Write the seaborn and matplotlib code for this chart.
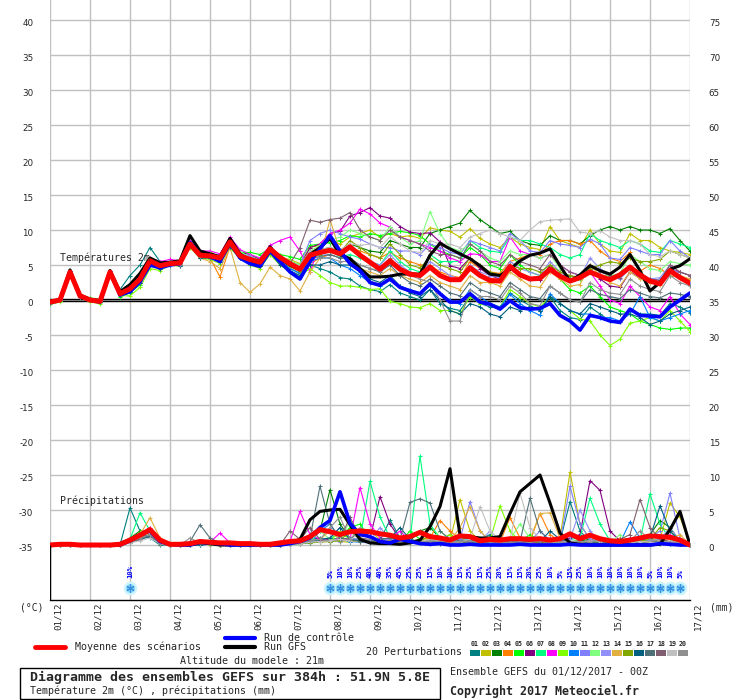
import matplotlib
matplotlib.use('Agg')
import matplotlib.pyplot as plt
import seaborn as sns
import pandas as pd
from matplotlib.lines import Line2D
from matplotlib.patches import Rectangle
from matplotlib.transforms import ScaledTranslation

# time axis: hours after 01/12/2017 00Z, every 6h up to 384h
hours = list(range(0, 385, 6))
day_ticks = list(range(0, 385, 24))
day_labels = ['01/12', '02/12', '03/12', '04/12', '05/12', '06/12', '07/12', '08/12', '09/12',
              '10/12', '11/12', '12/12', '13/12', '14/12', '15/12', '16/12', '17/12']

# ---- 2m temperature (degC) ----
mean_t = [-0.3, 0.0, 4.0, 0.6,  0.0, -0.2, 4.0, 0.9,  1.6, 3.0, 5.6, 4.9,  5.2, 5.3, 8.0, 6.4,
          6.3, 6.0, 8.3, 6.3,  5.8, 5.4, 7.3, 6.1,  5.2, 4.4, 6.4, 6.8,  7.1, 6.6, 7.6, 6.4,
          5.4, 4.4, 5.6, 4.4,  3.7, 3.5, 4.7, 3.5,  2.9, 2.9, 4.6, 3.5,  2.8, 2.7, 4.8, 3.6,
          3.0, 3.1, 4.4, 3.4,  2.7, 3.2, 4.0, 3.4,  2.9, 3.6, 4.7, 3.6,  2.7, 2.3, 4.2, 3.2,
          2.4]
ctrl_t = [-0.4, 0.0, 4.0, 0.5,  0.0, -0.3, 4.0, 0.7,  1.2, 2.6, 5.0, 4.6,  5.0, 5.2, 8.2, 6.5,
          6.2, 5.5, 8.2, 6.0,  5.2, 4.8, 7.0, 5.5,  4.0, 3.0, 5.5, 7.3,  9.2, 7.0, 5.2, 4.2,
          2.5, 2.1, 3.0, 1.8,  1.3, 0.9, 2.3, 0.9,  -0.3, -0.3, 0.9, -0.3,  -0.6, -1.3, -0.1, -1.1,
          -1.3, -1.2, -0.5, -2.2,  -3.0, -4.3, -2.2, -2.5,  -3.0, -3.2, -1.3, -2.2,  -2.3, -2.4, -1.0, 0.0,
          1.0]
gfs_t = [-0.3, 0.1, 4.3, 0.7,  0.1, -0.1, 4.2, 1.2,  2.2, 3.8, 6.0, 5.3,  5.4, 5.6, 9.2, 7.0,
         6.6, 6.2, 8.8, 6.6,  5.5, 4.9, 7.6, 5.9,  5.0, 4.3, 6.5, 7.5,  8.8, 6.5, 5.9, 4.5,
         3.3, 3.3, 3.4, 3.7,  3.7, 3.7, 6.4, 8.1,  7.3, 6.6, 5.9, 4.9,  3.7, 3.5, 4.4, 5.6,
         6.4, 6.7, 7.3, 4.9,  2.7, 3.6, 4.9, 4.2,  3.7, 4.7, 6.5, 4.2,  1.3, 2.5, 4.4, 4.9,
         5.9]

t01 = [-0.4, 0.0, 4.2, 0.7,  0.1, -0.1, 4.1, 1.5,  3.5, 5.0, 7.5, 5.5,  5.3, 5.2, 8.2, 6.8,
       6.5, 6.0, 8.0, 6.0,  5.0, 4.8, 7.0, 5.5,  4.5, 3.8, 5.0, 4.5,  4.0, 3.2, 3.0, 2.0,
       1.5, 1.2, 2.2, 1.0,  0.5, 0.0, 1.5, -0.5,  -1.2, -1.5, 0.5, -0.5,  -1.0, -1.2, 1.0, 0.0,
       -0.8, -1.5, 0.5, -1.5,  -2.5, -2.8, -1.0, -2.0,  -3.0, -3.2, -1.5, -2.0,  -2.0, -2.2, -0.5, -1.0,
       -1.8]
t02 = [-0.3, 0.1, 3.9, 0.5,  -0.2, -0.3, 4.0, 0.8,  1.4, 2.8, 5.2, 4.8,  5.1, 5.2, 7.8, 6.2,
       6.8, 6.0, 8.5, 6.5,  6.2, 5.6, 7.6, 6.0,  5.8, 5.2, 7.5, 7.8,  8.5, 8.0, 9.0, 9.5,
       10.0, 9.0, 9.5, 9.0,  9.2, 8.8, 10.3, 10.0,  9.8, 9.0, 10.2, 8.8,  8.0, 7.5, 9.0, 8.0,
       7.5, 7.2, 10.5, 8.5,  8.0, 7.5, 10.0, 8.0,  7.0, 6.8, 9.5, 8.5,  8.5, 7.5, 7.0, 6.8,
       6.5]
t03 = [-0.5, -0.1, 4.0, 0.6,  0.2, -0.2, 4.0, 0.8,  1.2, 2.5, 5.4, 4.6,  5.0, 5.0, 8.3, 6.6,
       6.6, 6.2, 8.6, 6.8,  6.5, 5.8, 7.5, 6.0,  5.5, 5.0, 7.0, 7.2,  7.5, 7.0, 8.0, 7.5,
       7.0, 6.8, 8.5, 8.0,  7.5, 7.5, 9.5, 10.0,  10.5, 11.0, 12.8, 11.5,  10.5, 9.5, 9.8, 8.5,
       8.0, 7.8, 9.2, 8.5,  8.5, 8.0, 9.2, 10.0,  10.5, 10.0, 10.5, 10.0,  10.0, 9.5, 10.2, 8.5,
       7.0]
t04 = [-0.3, 0.0, 4.0, 0.5,  0.0, -0.2, 4.1, 1.0,  1.8, 3.2, 5.8, 5.0,  5.5, 5.4, 7.8, 6.0,
       6.0, 3.3, 7.6, 6.2,  5.5, 5.0, 7.0, 5.8,  4.8, 4.0, 5.2, 6.0,  6.5, 6.0, 7.5, 7.0,
       6.5, 6.0, 6.8, 6.0,  5.5, 5.0, 5.0, 4.0,  3.5, 3.2, 5.5, 4.5,  4.0, 3.8, 5.5, 6.0,
       6.5, 6.5, 8.0, 8.5,  8.5, 8.0, 8.5, 7.0,  6.0, 5.5, 6.8, 4.1,  5.0, 4.5, 3.5, 3.2,
       3.0]
t05 = [-0.2, 0.2, 4.1, 0.8,  0.3, 0.1, 3.9, 0.5,  1.0, 2.2, 5.2, 4.8,  5.4, 5.5, 8.0, 6.6,
       6.4, 6.0, 8.3, 6.8,  6.8, 6.5, 7.4, 6.5,  6.2, 5.8, 7.8, 8.0,  8.2, 8.5, 9.2, 9.0,
       9.5, 9.2, 9.5, 9.8,  9.6, 9.2, 8.0, 7.0,  6.5, 6.0, 7.5, 6.5,  5.0, 4.5, 6.5, 5.0,
       4.0, 3.5, 4.8, 3.0,  1.5, 1.0, 2.0, 0.5,  -1.0, -1.5, -2.0, -3.0,  -3.5, -4.0, -4.2, -4.0,
       -4.0]
t06 = [-0.4, 0.0, 4.0, 0.6,  -0.1, -0.3, 4.2, 0.9,  1.5, 3.0, 5.6, 5.0,  5.3, 5.3, 8.1, 6.5,
       6.4, 6.1, 8.2, 6.4,  6.0, 5.5, 7.6, 6.2,  5.5, 4.8, 7.5, 8.0,  9.5, 9.8, 12.0, 12.5,
       13.2, 12.0, 11.7, 10.5,  9.7, 9.5, 9.6, 8.3,  4.9, 4.5, 6.0, 4.5,  3.5, 3.0, 4.5, 3.5,
       3.0, 2.8, 5.0, 3.5,  3.5, 3.0, 4.5, 3.0,  2.0, 1.8, 4.0, 3.2,  3.0, 2.8, 4.5, 4.0,
       3.5]
t07 = [-0.5, -0.1, 3.9, 0.4,  0.0, -0.2, 4.0, 1.0,  1.7, 3.0, 5.5, 4.8,  5.2, 5.0, 7.6, 6.0,
       6.3, 5.5, 8.0, 6.5,  5.8, 5.0, 7.2, 5.8,  5.0, 4.2, 6.0, 6.5,  7.0, 6.2, 6.5, 6.0,
       5.5, 5.0, 7.0, 5.5,  4.5, 4.0, 6.5, 5.5,  5.5, 5.5, 8.5, 7.5,  7.0, 6.8, 9.0, 8.5,
       8.5, 8.0, 7.5, 6.5,  6.0, 6.5, 9.5, 8.5,  8.0, 7.5, 8.5, 8.0,  7.0, 6.8, 8.5, 8.0,
       7.5]
t08 = [-0.3, 0.1, 4.1, 0.8,  0.1, 0.0, 4.1, 1.2,  2.0, 3.5, 6.0, 5.5,  5.8, 5.6, 8.4, 7.0,
       7.0, 6.6, 9.0, 7.2,  6.5, 6.0, 7.8, 8.5,  9.0, 7.0, 4.0, 8.0,  9.5, 10.0, 11.0, 13.0,
       12.3, 11.0, 10.4, 9.0,  8.5, 8.0, 7.5, 7.0,  6.0, 5.5, 6.6, 6.5,  5.5, 5.5, 9.0, 7.0,
       6.5, 6.0, 6.5, 5.0,  4.0, 3.5, 4.0, 2.0,  0.0, -0.5, 2.0, 0.5,  -1.0, -1.5, 0.5, -2.0,
       -3.5]
t09 = [-0.6, -0.3, 3.8, 0.4,  -0.3, -0.5, 3.9, 0.6,  0.6, 1.8, 4.5, 4.2,  5.0, 4.8, 7.5, 6.0,
       5.8, 5.2, 7.4, 6.0,  5.0, 4.5, 6.5, 5.0,  4.0, 3.5, 4.5, 3.5,  2.5, 2.0, 2.0, 1.8,
       1.5, 1.6, -0.2, -0.5,  -1.0, -1.1, -0.5, -1.5,  -1.5, -2.0, 0.5, -0.5,  -0.5, -1.0, 1.5, 0.5,
       -0.5, -1.0, 0.5, -0.5,  -1.5, -2.7, -3.0, -5.0,  -6.5, -5.6, -3.3, -3.0,  -2.5, -3.0, -1.5, -3.0,
       -4.5]
t10 = [-0.4, 0.0, 4.0, 0.5,  0.0, -0.2, 3.9, 0.7,  1.3, 2.6, 5.3, 4.8,  5.1, 5.0, 8.0, 6.3,
       6.2, 5.6, 8.0, 6.2,  5.5, 5.0, 7.0, 5.5,  4.5, 3.8, 5.5, 6.0,  6.0, 5.0, 4.5, 3.5,
       2.5, 2.0, 3.0, 2.0,  1.5, 1.0, 2.0, 1.0,  0.0, -0.5, 1.5, 0.5,  -0.5, -1.0, 0.8, -0.5,
       -1.5, -2.2, 0.9, -0.5,  -1.5, -2.0, -2.0, -2.5,  -2.5, -3.0, -2.0, 0.5,  -2.5, -3.0, -2.5, -2.0,
       -1.5]
t11 = [-0.4, 0.1, 4.1, 0.7,  0.1, 0.0, 4.0, 0.9,  1.1, 2.4, 5.0, 4.5,  5.0, 4.9, 7.8, 6.0,
       6.1, 5.6, 8.1, 6.3,  5.7, 5.2, 7.1, 5.8,  5.3, 5.0, 8.5, 9.5,  10.0, 9.5, 9.0, 8.7,
       8.0, 7.5, 7.5, 7.0,  7.0, 6.5, 8.0, 7.5,  6.8, 6.5, 8.5, 8.0,  7.5, 7.0, 9.5, 8.5,
       7.0, 6.8, 8.5, 8.0,  7.8, 7.5, 8.7, 8.0,  6.0, 5.8, 7.5, 7.0,  6.5, 6.5, 8.5, 7.0,
       6.0]
t12 = [-0.5, -0.1, 3.9, 0.5,  -0.2, -0.4, 4.0, 0.8,  1.5, 2.8, 5.4, 5.0,  5.5, 5.4, 8.2, 6.8,
       6.7, 6.2, 8.6, 6.9,  6.1, 5.6, 7.5, 6.2,  5.6, 5.0, 7.0, 7.8,  8.5, 9.0, 10.0, 9.5,
       9.0, 8.5, 10.5, 9.0,  8.0, 8.5, 12.6, 9.5,  7.5, 7.0, 8.0, 7.0,  6.0, 5.5, 7.0, 6.5,
       6.5, 6.0, 6.5, 4.5,  3.0, 2.8, 4.0, 3.5,  3.5, 3.8, 6.5, 5.5,  4.5, 4.2, 5.5, 5.2,
       5.0]
t13 = [-0.3, 0.1, 4.0, 0.6,  0.2, 0.0, 4.1, 1.0,  1.6, 3.0, 5.7, 5.2,  5.2, 5.1, 8.1, 6.5,
       6.5, 6.0, 8.4, 6.6,  6.3, 5.6, 7.4, 6.0,  5.1, 4.5, 6.8, 6.4,  6.5, 6.0, 7.5, 6.5,
       5.5, 5.0, 6.5, 5.0,  4.0, 3.6, 5.5, 4.5,  3.5, 3.0, 5.0, 4.0,  3.5, 3.2, 5.5, 4.5,
       4.0, 3.5, 5.5, 4.0,  3.0, 3.2, 6.0, 4.5,  3.5, 3.0, 4.5, 3.8,  3.0, 3.2, 5.0, 3.5,
       2.5]
t14 = [-0.3, 0.0, 4.0, 0.6,  0.0, -0.2, 4.0, 0.9,  1.3, 2.6, 5.0, 4.6,  5.3, 5.2, 8.0, 6.0,
       5.5, 4.5, 7.5, 2.5,  1.1, 2.3, 4.7, 3.5,  3.0, 1.3, 4.0, 6.0,  11.5, 7.0, 5.5, 4.5,
       4.0, 3.5, 4.5, 3.5,  3.0, 2.5, 3.5, 2.5,  2.0, 1.5, 3.5, 2.5,  2.5, 2.0, 4.0, 3.0,
       2.0, 1.8, 4.0, 3.0,  2.0, 2.2, 5.0, 3.5,  2.5, 2.0, 4.0, 3.0,  2.5, 2.2, 4.0, 3.5,
       3.0]
t15 = [-0.4, 0.0, 4.0, 0.7,  0.1, -0.1, 4.0, 0.9,  1.4, 2.7, 5.5, 5.0,  5.2, 5.0, 7.9, 6.2,
       6.3, 5.8, 8.2, 6.5,  5.9, 5.4, 7.3, 5.8,  4.8, 4.2, 6.5, 6.5,  7.0, 6.8, 8.5, 7.5,
       6.5, 6.0, 8.0, 6.5,  5.0, 4.6, 6.0, 5.0,  4.5, 4.0, 6.0, 5.0,  4.0, 3.6, 5.0, 4.5,
       4.5, 4.0, 5.0, 4.0,  3.5, 3.2, 4.5, 5.0,  5.5, 5.2, 6.0, 5.5,  5.5, 5.8, 7.0, 6.5,
       6.0]
t16 = [-0.4, 0.0, 4.0, 0.5,  0.0, -0.3, 4.0, 0.7,  1.2, 2.4, 5.0, 4.5,  5.0, 4.9, 7.7, 6.0,
       6.0, 5.4, 7.6, 6.0,  5.2, 4.8, 6.8, 5.0,  4.2, 3.5, 5.0, 5.0,  5.5, 5.0, 5.0, 4.0,
       3.0, 2.5, 3.5, 2.0,  1.0, 0.5, 1.5, 0.0,  -1.5, -2.0, -0.5, -1.0,  -2.0, -2.4, -1.0, -1.5,
       -1.0, -1.5, 0.5, -0.5,  -1.5, -2.0, -0.5, -1.0,  -1.5, -2.0, -2.0, -2.5,  -3.5, -3.0, -2.0, -1.5,
       -1.0]
t17 = [-0.3, 0.1, 4.0, 0.6,  0.1, -0.1, 4.0, 0.9,  1.5, 2.8, 5.4, 4.9,  5.2, 5.2, 8.0, 6.4,
       6.4, 5.8, 8.3, 6.4,  5.8, 5.3, 7.3, 6.0,  5.2, 4.5, 6.0, 6.2,  6.5, 6.0, 6.0, 5.0,
       4.5, 4.0, 5.0, 3.5,  2.5, 2.0, 3.0, 2.0,  1.0, 0.6, 2.5, 1.5,  1.0, 0.5, 2.5, 1.5,
       0.5, 0.2, 2.0, 1.0,  0.0, -0.3, 1.5, 0.8,  0.5, 0.2, 1.5, 1.0,  0.5, 0.3, 1.0, 0.8,
       0.5]
t18 = [-0.4, 0.0, 4.1, 0.7,  0.0, -0.2, 4.1, 1.0,  1.6, 3.0, 5.6, 5.2,  5.3, 5.3, 8.1, 6.5,
       6.5, 6.0, 8.3, 6.5,  6.0, 5.5, 7.5, 6.0,  5.2, 7.5, 11.4, 11.1,  11.5, 11.7, 12.5, 10.0,
       9.0, 8.5, 10.0, 9.0,  8.5, 8.0, 7.0, 6.5,  6.5, 6.0, 8.0, 7.0,  5.5, 5.0, 6.5, 5.5,
       5.0, 4.5, 6.5, 5.0,  4.0, 3.5, 5.0, 4.0,  3.5, 3.2, 4.5, 3.5,  3.0, 2.8, 5.0, 4.0,
       3.5]
t19 = [-0.3, 0.1, 4.0, 0.6,  0.1, -0.1, 4.0, 0.9,  1.5, 2.8, 5.5, 5.0,  5.2, 5.1, 8.0, 6.3,
       6.3, 5.8, 8.2, 6.4,  5.8, 5.3, 7.3, 5.9,  5.4, 4.8, 7.0, 7.2,  7.5, 7.2, 8.0, 7.8,
       8.0, 7.5, 9.0, 8.0,  7.0, 6.8, 8.5, 8.0,  8.0, 7.5, 9.0, 9.5,  10.0, 9.5, 9.0, 8.5,
       10.0, 11.2, 11.4, 11.5,  11.6, 9.7, 9.5, 9.9,  9.0, 8.5, 8.5, 8.0,  6.5, 6.2, 7.0, 6.5,
       6.0]
t20 = [-0.4, 0.0, 3.9, 0.5,  0.0, -0.2, 4.0, 0.8,  1.4, 2.6, 5.3, 4.8,  5.2, 5.0, 7.9, 6.2,
       6.2, 5.6, 8.1, 6.3,  5.7, 5.2, 7.2, 5.8,  5.0, 4.4, 6.2, 6.0,  6.0, 5.5, 5.5, 5.0,
       4.5, 4.2, 6.0, 4.5,  3.5, 3.0, 2.5, 0.0,  -3.0, -3.0, 1.5, 0.5,  0.5, 0.0, 2.0, 1.0,
       -0.5, -0.8, 2.0, 1.0,  0.0, -0.3, 2.5, 1.5,  1.0, 0.8, 3.0, 2.0,  1.5, 1.2, 3.5, 2.5,
       2.0]

# ---- precipitation (mm / 6h) ----
mean_p = [0, 0.1, 0.1, 0,  0, 0, 0, 0.1,  0.7, 1.4, 2.2, 0.7,  0.1, 0.1, 0.2, 0.5,
          0.4, 0.3, 0.3, 0.2,  0.2, 0.1, 0.1, 0.3,  0.5, 0.6, 1.2, 2.2,  1.9, 1.5, 1.9, 2.0,
          1.9, 1.6, 1.4, 1.0,  1.2, 1.8, 1.2, 1.0,  0.7, 1.3, 1.2, 0.6,  0.8, 0.7, 0.9, 0.9,
          0.8, 0.9, 0.7, 0.9,  1.6, 0.9, 1.4, 0.9,  0.6, 0.5, 0.7, 1.0,  1.3, 1.2, 1.1, 0.7,
          0]
ctrl_p = [0, 0.1, 0.1, 0,  0, 0, 0, 0,  0.6, 1.5, 2.0, 0.5,  0.1, 0, 0, 0.4,
          0.3, 0.2, 0, 0,  0, 0, 0, 0,  0.2, 0.5, 1.0, 2.5,  3.5, 7.6, 3.1, 1.5,
          1.2, 0.5, 0.3, 0.8,  0.5, 0.2, 0.1, 0.2,  0, 0, 0.1, 0,  0, 0, 0, 0.1,
          0, 0, 0, 0,  0.1, 0, 0, 0,  0, 0, 0, 0,  0, 0.2, 0.1, 0,
          0]
gfs_p = [0, 0.1, 0.1, 0,  0, 0, 0, 0.2,  0.8, 1.5, 2.0, 0.6,  0.1, 0, 0, 0.3,
         0.2, 0, 0, 0,  0, 0, 0, 0,  0.3, 0.8, 3.6, 4.8,  5.0, 5.1, 2.9, 0.8,
         0.3, 0.2, 0.2, 0.1,  0.3, 0.7, 2.6, 5.5,  10.9, 1.4, 1.2, 1.0,  1.0, 1.2, 4.5, 7.6,
         8.8, 10.0, 6.0, 1.7,  0.3, 0.1, 0, 0,  0, 0, 0, 0,  0, 0.1, 2.2, 4.8,
         0]

r01 = [0, 0, 0, 0,  0, 0, 0, 0,  5.3, 2.0, 1.0, 0,  0, 0, 0.2, 0.3,
       0.2, 0, 0, 0,  0, 0, 0, 0,  0.3, 0.5, 0.8, 1.0,  0.5, 1.2, 2.0, 0.8,
       0.5, 0.6, 3.6, 1.0,  0.3, 0.5, 0.8, 0.2,  0.3, 0.5, 0.6, 0.8,  1.5, 0.5, 0.3, 1.0,
       0.4, 0.2, 0.3, 0.5,  6.2, 2.0, 0.5, 0.3,  0.2, 0.4, 0.3, 0.2,  0.5, 0.8, 0.3, 0.2,
       0]
r02 = [0, 0, 0, 0,  0, 0, 0, 0,  0.8, 1.5, 2.5, 0.3,  0, 0, 0.1, 0.2,
       0, 0, 0, 0,  0, 0, 0, 0,  0.2, 0.3, 0.5, 0.6,  0.8, 0.5, 0.4, 1.0,
       2.0, 0.8, 0.5, 0.6,  0.3, 0.4, 0.5, 0.8,  0.6, 6.5, 2.0, 0.5,  0.3, 0.4, 0.3, 0.5,
       0.3, 0.2, 0.4, 1.0,  10.4, 3.0, 0.8, 0.5,  0.3, 0.2, 0.4, 0.5,  0.6, 0.8, 6.0, 4.0,
       0]
r03 = [0, 0, 0, 0,  0, 0, 0, 0,  1.0, 2.0, 2.0, 0.2,  0, 0, 0.2, 0.3,
       0.1, 0, 0, 0,  0, 0, 0, 0,  0.3, 0.6, 1.0, 2.0,  7.9, 3.0, 1.0, 0.8,
       0.5, 0.6, 0.5, 0.8,  0.6, 2.0, 2.5, 1.0,  0.5, 0.8, 1.0, 0.6,  0.4, 0.3, 0.5, 0.6,
       0.8, 0.5, 0.3, 0.4,  0.5, 0.6, 0.8, 0.4,  0.3, 0.5, 0.8, 1.0,  1.5, 3.5, 2.5, 0.5,
       0]
r04 = [0, 0, 0, 0,  0, 0, 0, 0,  0.6, 1.2, 2.0, 0.2,  0, 0, 0.1, 0.2,
       0.1, 0, 0, 0,  0, 0, 0, 0,  0.2, 0.3, 0.4, 0.5,  0.6, 0.8, 1.0, 0.6,
       0.5, 0.4, 0.6, 0.8,  0.5, 0.8, 1.0, 3.5,  2.0, 0.8, 0.5, 0.4,  0.3, 0.4, 3.9, 1.0,
       0.5, 4.5, 1.5, 0.5,  0.4, 0.3, 0.5, 0.4,  0.3, 1.0, 0.5, 0.3,  0.2, 0.3, 0.4, 0.3,
       0]
r05 = [0, 0, 0, 0,  0, 0, 0, 0,  0.5, 1.5, 2.0, 0.3,  0, 0, 0, 0.1,
       0.2, 0, 0, 0,  0, 0, 0, 0,  0.1, 0.2, 0.4, 0.6,  0.8, 1.0, 2.5, 3.0,
       1.0, 0.6, 0.5, 0.4,  2.0, 0.8, 0.5, 0.4,  0.3, 0.5, 0.4, 0.3,  0.2, 0.3, 0.4, 0.5,
       1.5, 0.6, 0.3, 0.2,  0.2, 0.3, 0.2, 0.1,  0.1, 0.2, 0.1, 0.1,  0.2, 0.1, 0.1, 0.1,
       0]
r06 = [0, 0, 0, 0,  0, 0, 0, 0,  0.6, 1.0, 2.2, 0.4,  0, 0, 0, 0.1,
       0.1, 0, 0, 0,  0, 0, 0, 0,  0.2, 0.3, 0.5, 0.6,  0.8, 0.6, 0.8, 2.0,
       1.0, 6.9, 3.0, 0.8,  0.5, 0.4, 0.6, 0.5,  1.5, 0.6, 0.4, 0.3,  0.4, 0.5, 0.3, 0.4,
       0.3, 0.5, 0.6, 0.8,  1.0, 1.5, 9.2, 7.8,  2.0, 0.6, 0.4, 0.3,  0.3, 0.4, 0.5, 0.3,
       0]
r07 = [0, 0, 0, 0,  0, 0, 0, 0,  0.8, 4.6, 2.0, 0.3,  0, 0, 0.1, 0.2,
       0.1, 0, 0, 0,  0, 0, 0, 0,  0.3, 0.5, 0.6, 0.8,  1.0, 1.5, 1.0, 0.8,
       9.1, 4.0, 1.0, 0.6,  0.8, 12.7, 3.0, 1.0,  0.5, 0.6, 0.8, 0.5,  0.4, 0.6, 0.5, 0.8,
       0.5, 0.6, 0.4, 0.5,  0.8, 1.0, 6.7, 3.0,  0.6, 0.5, 0.4, 0.6,  7.3, 3.0, 0.8, 0.4,
       0]
r08 = [0, 0, 0, 0,  0, 0, 0, 0,  0.5, 1.2, 2.5, 0.4,  0, 0, 0.2, 0.3,
       0.4, 1.7, 0.3, 0,  0, 0, 0, 0,  0.5, 4.8, 1.5, 0.8,  0.6, 1.0, 0.8, 8.2,
       3.0, 1.0, 0.8, 2.0,  0.6, 0.4, 0.5, 0.3,  0.4, 0.5, 0.3, 0.4,  0.3, 0.2, 0.4, 0.3,
       0.2, 0.3, 0.2, 0.4,  0.3, 0.2, 0.4, 0.5,  0.3, 0.6, 1.0, 0.4,  0.3, 0.4, 1.5, 0.6,
       0]
r09 = [0, 0, 0, 0,  0, 0, 0, 0,  0.4, 1.8, 1.5, 0.2,  0, 0, 0, 0.1,
       0.2, 0, 0, 0,  0, 0, 0, 0,  0.2, 0.3, 0.4, 0.5,  0.6, 2.0, 0.8, 0.5,
       0.4, 0.6, 0.5, 0.3,  0.4, 0.5, 0.6, 0.8,  1.5, 0.6, 0.4, 0.5,  0.6, 5.6, 2.0, 0.5,
       0.4, 0.3, 0.5, 0.6,  0.4, 0.3, 0.5, 0.4,  0.3, 0.4, 0.5, 0.6,  1.0, 0.4, 0.3, 0.2,
       0]
r10 = [0, 0, 0, 0,  0, 0, 0, 0,  0.4, 0.8, 1.5, 0.2,  0, 0, 0, 0,
       0.1, 0, 0, 0,  0, 0, 0, 0,  0.1, 0.2, 0.3, 2.0,  3.0, 0.8, 0.5, 0.4,
       0.3, 0.4, 0.5, 1.0,  0.4, 0.3, 0.2, 0.3,  0.2, 0.3, 0.4, 0.2,  0.3, 0.2, 0.3, 0.4,
       1.0, 0.4, 0.3, 0.2,  0.2, 0.3, 0.2, 0.1,  0.2, 0.3, 3.3, 1.0,  0.4, 0.3, 0.2, 0.1,
       0]
r11 = [0, 0, 0, 0,  0, 0, 0, 0,  0.6, 1.0, 2.0, 0.3,  0, 0, 0.1, 0.1,
       0.2, 0, 0, 0,  0, 0, 0, 0,  0.2, 0.4, 0.6, 0.8,  1.0, 2.5, 1.0, 0.6,
       0.5, 0.6, 0.8, 0.5,  0.4, 0.6, 0.5, 0.8,  0.6, 0.8, 6.2, 2.0,  0.5, 0.4, 0.6, 0.8,
       0.5, 2.0, 0.6, 0.4,  8.4, 3.0, 0.8, 0.5,  0.4, 0.6, 0.5, 0.8,  1.0, 2.0, 7.4, 1.0,
       0]
r12 = [0, 0, 0, 0,  0, 0, 0, 0,  0.6, 1.5, 2.0, 0.3,  0, 0, 0.1, 0.2,
       0.1, 0, 0, 0,  0, 0, 0, 0,  0.2, 0.3, 0.5, 2.0,  0.8, 0.6, 3.5, 1.0,
       0.6, 0.5, 0.4, 0.6,  0.5, 0.8, 0.6, 2.0,  0.8, 0.5, 0.4, 0.6,  0.5, 0.4, 0.8, 3.0,
       1.0, 0.5, 0.4, 0.3,  0.4, 0.5, 0.3, 0.4,  0.3, 1.5, 0.5, 0.4,  0.3, 0.5, 0.4, 0.3,
       0]
r13 = [0, 0, 0, 0,  0, 0, 0, 0,  0.5, 1.0, 2.0, 0.2,  0, 0, 0, 0.1,
       0.1, 0, 0, 0,  0, 0, 0, 0,  0.1, 0.3, 0.4, 0.5,  0.6, 0.5, 0.8, 1.0,
       0.6, 2.5, 0.8, 0.5,  0.4, 0.6, 0.5, 0.4,  0.5, 0.6, 0.8, 0.5,  2.0, 0.6, 0.4, 0.5,
       0.6, 0.8, 1.0, 0.6,  0.8, 5.0, 2.0, 0.6,  0.5, 0.4, 0.6, 0.8,  0.6, 0.8, 2.5, 0.6,
       0]
r14 = [0, 0, 0, 0,  0, 0, 0, 0,  0.6, 1.5, 3.9, 1.0,  0.1, 0, 0.2, 0.2,
       0.1, 0, 0, 0,  0, 0, 0, 0,  0.2, 0.4, 0.6, 0.8,  2.0, 0.8, 0.6, 0.5,
       0.4, 0.5, 0.6, 0.4,  0.5, 0.6, 0.8, 0.6,  0.5, 2.5, 5.5, 2.0,  0.6, 0.5, 0.8, 0.6,
       0.8, 4.5, 4.6, 1.0,  0.5, 0.4, 0.3, 0.5,  0.4, 0.3, 0.5, 0.6,  0.4, 0.6, 0.8, 1.5,
       0]
r15 = [0, 0, 0, 0,  0, 0, 0, 0,  0.4, 1.0, 1.5, 0.2,  0, 0, 0, 0.1,
       0.1, 0, 0, 0,  0, 0, 0, 0,  0.1, 0.2, 0.3, 0.4,  0.5, 0.6, 2.0, 0.8,
       0.5, 0.4, 0.6, 0.5,  0.4, 0.5, 1.5, 0.6,  0.4, 0.3, 0.5, 0.4,  1.0, 0.5, 0.4, 0.3,
       0.4, 0.3, 0.5, 0.4,  0.3, 0.4, 0.5, 0.3,  0.4, 0.3, 0.5, 0.6,  0.8, 2.5, 2.0, 0.5,
       0]
r16 = [0, 0, 0, 0,  0, 0, 0, 0,  0.3, 0.8, 1.2, 0.2,  0, 0, 0, 0,
       0.1, 0, 0, 0,  0, 0, 0, 0,  0.2, 0.3, 0.5, 0.8,  1.0, 2.5, 0.8, 0.6,
       0.5, 0.8, 1.0, 2.5,  0.8, 0.5, 0.4, 0.6,  0.5, 0.4, 0.6, 0.5,  0.4, 0.5, 0.3, 0.4,
       0.6, 0.5, 2.0, 0.8,  0.5, 0.4, 0.3, 0.5,  0.4, 0.6, 0.5, 0.8,  1.0, 5.6, 2.0, 0.5,
       0]
r17 = [0, 0, 0, 0,  0, 0, 0, 0,  0.4, 1.5, 1.2, 0.2,  0, 0, 0.5, 2.9,
       1.0, 0.3, 0.2, 0.1,  0, 0, 0, 0,  0.3, 0.5, 1.0, 8.4,  3.0, 1.0, 0.8, 0.5,
       0.6, 0.8, 1.0, 0.8,  6.1, 6.6, 6.0, 2.0,  0.8, 0.6, 0.5, 0.4,  0.5, 0.6, 0.4, 0.5,
       6.7, 2.0, 0.6, 0.5,  0.4, 0.5, 0.6, 0.4,  0.3, 0.4, 0.5, 0.3,  0.4, 0.5, 0.3, 0.2,
       0]
r18 = [0, 0, 0, 0,  0, 0, 0, 0,  0.4, 0.8, 1.5, 0.2,  0, 0, 0, 0.1,
       0.1, 0, 0, 0,  0, 0, 0, 0,  2.0, 0.8, 2.5, 0.8,  0.6, 0.8, 4.0, 1.0,
       0.8, 0.6, 0.5, 0.4,  0.5, 0.6, 0.4, 0.5,  0.3, 0.4, 0.5, 0.6,  0.4, 0.3, 0.5, 0.4,
       0.3, 0.5, 0.4, 0.6,  0.5, 0.4, 0.6, 0.8,  0.6, 0.8, 1.5, 6.5,  2.5, 0.8, 0.5, 0.3,
       0]
r19 = [0, 0, 0, 0,  0, 0, 0, 0,  0.3, 0.6, 1.0, 0.2,  0, 0, 0, 0.1,
       0.1, 0, 0, 0,  0, 0, 0, 0,  0.1, 0.2, 0.4, 0.5,  0.6, 0.8, 0.6, 2.0,
       0.8, 0.6, 0.5, 0.4,  0.6, 0.5, 0.8, 0.6,  0.5, 0.4, 0.8, 5.5,  2.0, 0.6, 0.8, 7.4,
       2.5, 0.8, 0.5, 0.4,  0.5, 0.4, 0.6, 0.5,  1.0, 0.4, 0.3, 0.5,  0.4, 0.3, 0.5, 0.4,
       0]
r20 = [0, 0, 0, 0,  0, 0, 0, 0,  0.5, 1.0, 1.5, 0.2,  0, 0, 1.0, 0.3,
       0.1, 0, 0, 0,  0, 0, 0, 0,  0.3, 0.4, 0.6, 0.8,  2.5, 4.0, 0.8, 2.5,
       0.8, 0.6, 0.5, 0.4,  0.5, 0.4, 0.6, 0.5,  0.4, 0.5, 0.6, 0.4,  0.5, 0.4, 0.3, 0.5,
       0.4, 0.6, 0.5, 0.4,  0.3, 0.5, 0.4, 0.6,  0.5, 0.4, 0.6, 2.0,  0.8, 0.5, 0.4, 0.3,
       0]

member_names = ['01', '02', '03', '04', '05', '06', '07', '08', '09', '10',
                '11', '12', '13', '14', '15', '16', '17', '18', '19', '20']
member_colors = ['#008080', '#C0C000', '#008000', '#FF8000', '#00FF00', '#800080', '#00FF80',
                 '#FF00FF', '#80FF00', '#0080FF', '#8080FF', '#80FF80', '#9090F8', '#E0B040',
                 '#80A800', '#006080', '#507078', '#806070', '#C0C0C0', '#909090']
pert_temp = [t01, t02, t03, t04, t05, t06, t07, t08, t09, t10,
             t11, t12, t13, t14, t15, t16, t17, t18, t19, t20]
pert_rain = [r01, r02, r03, r04, r05, r06, r07, r08, r09, r10,
             r11, r12, r13, r14, r15, r16, r17, r18, r19, r20]

# snow probability (%)
snow_hours = [48] + list(range(168, 379, 6))
snow_pct = [10,
            5, 10, 10, 25, 40, 40, 35, 45, 25, 25, 15, 10, 10, 15, 25, 15, 25, 20,
            15, 15, 20, 25, 10, 5, 15, 25, 10, 10, 10, 10, 10, 10, 5, 10, 10, 5]

left_ticks = list(range(-35, 41, 5))
right_ticks = list(range(0, 76, 5))
rain_offset = 35  # 0 mm sits on the -35 line

sns.set_style('white')
plt.rcParams['font.family'] = ['DejaVu Sans Mono', 'DejaVu Sans']
plt.rcParams['axes.unicode_minus'] = False

W, H = 740, 700
def fx(x):
    return x / W
def fy(y):
    return 1 - y / H

fig = plt.figure(figsize=(7.4, 7.0), dpi=100)
ax = fig.add_axes([fx(50), fy(600), 640 / W, 600 / H])
ylo, yhi = -35 - 55 / 7, 40 + 20 / 7
ax.set_xlim(0, 384)
ax.set_ylim(ylo, yhi)

# long table for the 20 perturbations
rows = []
for name, temps, rains in zip(member_names, pert_temp, pert_rain):
    for h, t, r in zip(hours, temps, rains):
        rows.append((name, h, t, r - rain_offset))
df = pd.DataFrame(rows, columns=['member', 'hour', 'temp', 'rain'])
pal = dict(zip(member_names, member_colors))

ax.axhline(0.2, color='black', lw=1, zorder=1.5)
ax.axhline(-0.2, color='black', lw=1, zorder=1.5)

for col in ['temp', 'rain']:
    sns.lineplot(data=df, x='hour', y=col, hue='member', palette=pal, estimator=None,
                 legend=False, lw=0.8, marker='+', markersize=3, ax=ax)
for line in ax.lines:
    line.set_markeredgecolor(line.get_color())

sns.lineplot(x=hours, y=gfs_t, color='black', lw=2.2, ax=ax)
sns.lineplot(x=hours, y=[v - rain_offset for v in gfs_p], color='black', lw=2.2, ax=ax)
sns.lineplot(x=hours, y=ctrl_t, color='#0000FF', lw=2.6, ax=ax)
sns.lineplot(x=hours, y=[v - rain_offset for v in ctrl_p], color='#0000FF', lw=2.6, ax=ax)
sns.lineplot(x=hours, y=mean_t, color='#FF0000', lw=3.6, ax=ax)
sns.lineplot(x=hours, y=[v - rain_offset for v in mean_p], color='#FF0000', lw=3.6, ax=ax)

# snow icons and probabilities
snow_y = 40 - (588 - 20) / 7
ax.scatter(snow_hours, [snow_y] * len(snow_hours), s=95, color='#CCF4FF', lw=0, zorder=3, clip_on=False)
ax.scatter(snow_hours, [snow_y] * len(snow_hours), s=40, color='#80D4F6', lw=0, zorder=3.1, clip_on=False)
ax.scatter(snow_hours, [snow_y] * len(snow_hours), s=28, marker=(6, 2, 0), color='#3A8FE0',
           lw=0.8, zorder=3.2, clip_on=False)
for h, p in zip(snow_hours, snow_pct):
    ax.text(h, 40 - (578 - 20) / 7, f'{p}%', rotation=90, color='#0000FF', fontsize=5.2,
            fontweight='bold', ha='center', va='bottom')

ax.text(6, 6.1, 'Températures 2m', fontsize=7.1, va='center')
ax.text(6, -28.7, 'Précipitations', fontsize=7.1, va='center')

# axes, grid, ticks
ax.set_xticks(day_ticks)
ax.set_xticklabels(day_labels)
ax.set_yticks(left_ticks)
ax.set_yticklabels([str(v) for v in left_ticks], family='DejaVu Sans', fontsize=6.3)
ax.grid(True, color='#C0C0C0', lw=1)
ax.set_axisbelow(True)
ax.set_xlabel('')
ax.set_ylabel('')
for s in ['top', 'left', 'right']:
    ax.spines[s].set_visible(False)
ax.spines['bottom'].set_color('black')
ax.spines['bottom'].set_linewidth(1)
ax.vlines(0, ylo, -35, color='black', lw=1)
ax.tick_params(axis='y', length=0, pad=12)
ax.tick_params(axis='x', length=0, pad=2, labelsize=6.6, labelrotation=90)
for lab in ax.get_xticklabels():
    lab.set_transform(lab.get_transform() + ScaledTranslation(8 / 100, 0, fig.dpi_scale_trans))
for lab in ax.get_yticklabels():
    lab.set_transform(lab.get_transform() + ScaledTranslation(0, -2.5 / 100, fig.dpi_scale_trans))

ax2 = ax.twinx()
ax2.set_ylim(ylo + rain_offset, yhi + rain_offset)
ax2.set_yticks(right_ticks)
ax2.set_yticklabels([str(v) for v in right_ticks], family='DejaVu Sans', fontsize=6.3)
ax2.tick_params(axis='y', length=0, pad=13.5)
for s in ax2.spines.values():
    s.set_visible(False)
for lab in ax2.get_yticklabels():
    lab.set_transform(lab.get_transform() + ScaledTranslation(0, -2.5 / 100, fig.dpi_scale_trans))

fig.text(fx(20), fy(607), '(°C)', fontsize=7, va='center')
fig.text(fx(710), fy(607), '(mm)', fontsize=7, va='center')

# legend block
fig.add_artist(Line2D([fx(35), fx(65)], [fy(647), fy(647)], color='#FF0000', lw=3.5))
fig.text(fx(75), fy(647), 'Moyenne des scénarios', fontsize=7.2, va='center')
fig.add_artist(Line2D([fx(225), fx(255)], [fy(637.5), fy(637.5)], color='#0000FF', lw=3))
fig.add_artist(Line2D([fx(225), fx(255)], [fy(647), fy(647)], color='black', lw=3))
fig.text(fx(264), fy(638), 'Run de contrôle', fontsize=7.2, va='center')
fig.text(fx(264), fy(647.5), 'Run GFS', fontsize=7.2, va='center')
fig.text(fx(180), fy(661), 'Altitude du modele : 21m', fontsize=7.2, va='center')

fig.add_artist(Rectangle((fx(20), fy(699)), 420 / W, 31 / H, transform=fig.transFigure,
                         fill=False, edgecolor='black', lw=1))
fig.text(fx(30), fy(677), 'Diagramme des ensembles GEFS sur 384h : 51.9N 5.8E',
         fontsize=9.5, fontweight='bold', va='center')
fig.text(fx(30), fy(691), 'Température 2m (°C) , précipitations (mm)', fontsize=7.2, va='center')

fig.text(fx(366), fy(652), '20 Perturbations', fontsize=7.2, va='center')
for i, (name, c) in enumerate(zip(member_names, member_colors)):
    x0 = 470 + i * 10.95
    fig.add_artist(Rectangle((fx(x0), fy(656)), 10 / W, 6 / H, transform=fig.transFigure,
                             facecolor=c, edgecolor='none'))
    fig.text(fx(x0 + 5), fy(644), name, fontsize=4.8, fontweight='bold', ha='center', va='center')

fig.text(fx(450), fy(672), 'Ensemble GEFS du 01/12/2017 - 00Z', fontsize=7.2, va='center')
fig.text(fx(450), fy(691), 'Copyright 2017 Meteociel.fr', fontsize=8.4, fontweight='bold', va='center')

fig.savefig('out.png', dpi=100)
